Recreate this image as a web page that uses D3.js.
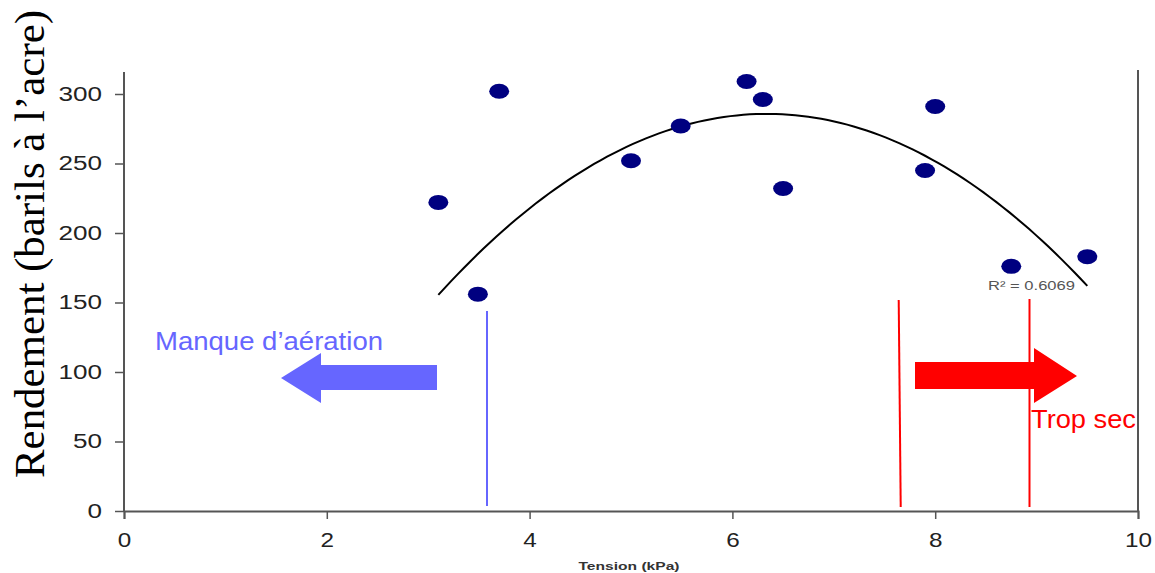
<!DOCTYPE html>
<html><head><meta charset="utf-8">
<script src="https://cdn.jsdelivr.net/npm/d3@7"></script>
<style>body{margin:0;background:#fff}svg{display:block}</style>
</head><body>
<svg id="c" width="1155" height="573"></svg>
<script>
const tension = [3.1, 3.7, 3.49, 5.0, 5.49, 6.14, 6.3, 6.5, 7.9, 8.0, 8.75, 9.5];
const rendement = [222, 302, 156, 252, 277, 309, 296, 232, 245, 291, 176, 183];
const xTicks = [0, 2, 4, 6, 8, 10];
const yTicks = [0, 50, 100, 150, 200, 250, 300];
const r2Label = "R² = 0.6069";
// polynomial trend line (order 2): a + b*x + c*x^2
const trendCoef = [-212.9, 157.26, -12.40];
const trendRange = [3.1, 9.5];
const limitBlue = 3.58;
const limitRed = [7.65, 8.93];

const svg = d3.select("#c");
const x = d3.scaleLinear().domain([0, 10]).range([124, 1138]);
const y = d3.scaleLinear().domain([0, 300]).range([511, 94]);

const curve = d3.range(0, 101).map(i => {
  const t = trendRange[0] + (trendRange[1] - trendRange[0]) * i / 100;
  return [t, trendCoef[0] + trendCoef[1]*t + trendCoef[2]*t*t];
});

const axisColor = "#555";
const sans = "Liberation Sans, Arial, sans-serif";
// axes
const gx = svg.append("g").attr("transform", "translate(0,511)")
  .call(d3.axisBottom(x).tickValues(xTicks).tickSize(8).tickFormat(d3.format("d")));
gx.select(".domain").attr("stroke", axisColor).attr("stroke-width", 2);
gx.selectAll(".tick line").attr("stroke", axisColor).attr("stroke-width", 1.5);
gx.selectAll(".tick text").attr("font-family", sans)
  .attr("font-size", 21).attr("fill", "#222").attr("dy", null).attr("y", 36)
  .attr("textLength", d => String(d).length * 13.5).attr("lengthAdjust", "spacingAndGlyphs");

const gy = svg.append("g").attr("transform", "translate(124,0)")
  .call(d3.axisLeft(y).tickValues(yTicks).tickSize(9));
gy.select(".domain").remove();
svg.append("line").attr("x1", 124).attr("x2", 124).attr("y1", 72).attr("y2", 511)
  .attr("stroke", axisColor).attr("stroke-width", 2);
gy.selectAll(".tick line").attr("stroke", axisColor).attr("stroke-width", 1.5);
gy.selectAll(".tick text").attr("font-family", sans)
  .attr("font-size", 20).attr("fill", "#222").attr("x", -22)
  .attr("textLength", d => String(d).length * 14.5).attr("lengthAdjust", "spacingAndGlyphs");

// right border
svg.append("line").attr("x1", x(10)).attr("x2", x(10)).attr("y1", 70).attr("y2", 511)
  .attr("stroke", axisColor).attr("stroke-width", 2);

// titles
svg.append("text").attr("transform", "translate(44,244) rotate(-90)")
  .attr("text-anchor", "middle").attr("font-family", "Liberation Serif, Times New Roman, serif")
  .attr("font-size", 42).attr("fill", "#000")
  .attr("textLength", 468).attr("lengthAdjust", "spacingAndGlyphs")
  .text("Rendement (barils à l’acre)");
svg.append("text").attr("x", 629).attr("y", 570).attr("text-anchor", "middle")
  .attr("font-family", sans).attr("font-weight", "bold")
  .attr("font-size", 11.5).attr("fill", "#333")
  .attr("textLength", 101).attr("lengthAdjust", "spacingAndGlyphs").text("Tension (kPa)");

// limit lines
svg.append("line").attr("x1", x(limitBlue)).attr("x2", x(limitBlue)).attr("y1", 311).attr("y2", 506)
  .attr("stroke", "#6666ff").attr("stroke-width", 2);
svg.append("line").attr("x1", x(limitRed[0]) - 1).attr("x2", x(limitRed[0]) + 1).attr("y1", 300).attr("y2", 507)
  .attr("stroke", "#ff0000").attr("stroke-width", 2);
svg.append("line").attr("x1", x(limitRed[1])).attr("x2", x(limitRed[1])).attr("y1", 299).attr("y2", 507)
  .attr("stroke", "#ff0000").attr("stroke-width", 2);

// arrows
svg.append("path").attr("d", "M437,365 L321,365 L321,353 L281,378 L321,403 L321,390 L437,390 Z")
  .attr("fill", "#6666ff");
svg.append("path").attr("d", "M915,362 L1034,362 L1034,348 L1077,376 L1034,403 L1034,389 L915,389 Z")
  .attr("fill", "#ff0000");

svg.append("text").attr("x", 155).attr("y", 350)
  .attr("font-family", sans).attr("font-size", 25)
  .attr("textLength", 228).attr("lengthAdjust", "spacingAndGlyphs")
  .attr("fill", "#6666ff").text("Manque d’aération");
svg.append("text").attr("x", 1031).attr("y", 428)
  .attr("font-family", sans).attr("font-size", 25)
  .attr("textLength", 105).attr("lengthAdjust", "spacingAndGlyphs")
  .attr("fill", "#ff0000").text("Trop sec");

// trend line
svg.append("path").datum(curve)
  .attr("d", d3.line().x(d => x(d[0])).y(d => y(d[1])))
  .attr("fill", "none").attr("stroke", "#000").attr("stroke-width", 2);

svg.append("text").attr("x", 988).attr("y", 290)
  .attr("font-family", sans).attr("font-size", 13)
  .attr("textLength", 87).attr("lengthAdjust", "spacingAndGlyphs")
  .attr("fill", "#555").text(r2Label);

// points
svg.append("g").selectAll("ellipse").data(tension).join("ellipse")
  .attr("cx", d => x(d)).attr("cy", (d, i) => y(rendement[i]))
  .attr("rx", 10).attr("ry", 7.5).attr("fill", "#000080");
</script>
</body></html>
